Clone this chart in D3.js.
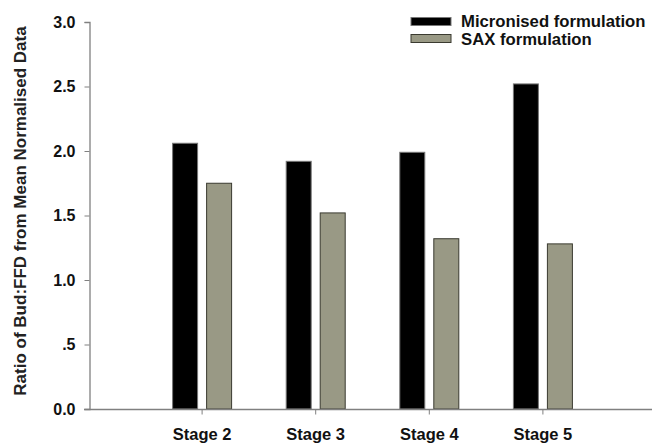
<!DOCTYPE html>
<html><head><meta charset="utf-8">
<script src="https://cdn.jsdelivr.net/npm/d3@7"></script>
<style>body{margin:0;background:#fff;} svg{display:block;font-family:"Liberation Sans",Arial,sans-serif;}</style>
</head><body>
<svg id="c" width="652" height="443"></svg>
<script>
const categories = ["Stage 2", "Stage 3", "Stage 4", "Stage 5"];
const seriesNames = ["Micronised formulation", "SAX formulation"];
const micronised = [2.06, 1.92, 1.99, 2.52];
const sax = [1.75, 1.52, 1.32, 1.28];
const yTicks = [0, 0.5, 1.0, 1.5, 2.0, 2.5, 3.0];
const yTickLabels = ["0.0", ".5", "1.0", "1.5", "2.0", "2.5", "3.0"];
const yLabel = "Ratio of Bud:FFD from Mean Normalised Data";
const colors = ["#000000", "#999985"];
const strokes = ["#777777", "#3a3a30"];

const svg = d3.select("#c");
const y = d3.scaleLinear().domain([0, 3]).range([409, 22]);
const x = d3.scaleBand().domain(categories).range([145.3, 599.7]).padding(0);
const x1 = d3.scaleBand().domain(seriesNames).range([-29.5, 29.5]).paddingInner(0.265);
const xc = c => x(c) + x.bandwidth() / 2;

const data = [micronised, sax];

// bars
seriesNames.forEach((s, si) => {
  svg.append("g").selectAll("rect").data(categories).join("rect")
    .attr("x", c => xc(c) + x1(s))
    .attr("width", x1.bandwidth())
    .attr("y", (c, i) => y(data[si][i]))
    .attr("height", (c, i) => y(0) - y(data[si][i]))
    .attr("fill", colors[si])
    .attr("stroke", strokes[si])
    .attr("stroke-width", 1);
});

// y axis
const yAxis = d3.axisLeft(y).tickValues(yTicks).tickSize(5).tickPadding(9)
  .tickFormat((d, i) => yTickLabels[i]);
const gy = svg.append("g").attr("transform", "translate(89.5,0)").call(yAxis);
gy.select(".domain").attr("stroke", "#808080").attr("stroke-width", 1.3);
gy.selectAll(".tick line").attr("stroke", "#808080");
gy.selectAll(".tick text").attr("font-size", 16).attr("font-weight", "bold").attr("fill", "#111")
  .attr("font-family", "'Liberation Sans', Arial, sans-serif");

// x axis
svg.append("line").attr("x1", 84).attr("x2", 652).attr("y1", 409.5).attr("y2", 409.5)
  .attr("stroke", "#808080").attr("stroke-width", 1.3);
const xAxis = d3.axisBottom(x).tickSize(5).tickPadding(14);
const gx = svg.append("g").attr("transform", "translate(0,409.5)").call(xAxis);
gx.select(".domain").remove();
gx.selectAll(".tick line").attr("stroke", "#808080");
gx.selectAll(".tick text").attr("font-size", 16.5).attr("font-weight", "bold").attr("fill", "#111")
  .attr("font-family", "'Liberation Sans', Arial, sans-serif");

// y label
svg.append("text")
  .attr("transform", "translate(26,211) rotate(-90)")
  .attr("text-anchor", "middle")
  .attr("font-size", 17).attr("font-weight", "bold").attr("fill", "#222")
  .text(yLabel);

// legend
const lg = svg.append("g");
seriesNames.forEach((s, i) => {
  lg.append("rect").attr("x", 411).attr("y", 17.5 + i * 17).attr("width", 40).attr("height", 8)
    .attr("fill", colors[i]).attr("stroke", strokes[i]).attr("stroke-width", 1);
  lg.append("text").attr("x", 461).attr("y", 27 + i * 17.5)
    .attr("font-size", 16.7).attr("font-weight", "bold").attr("fill", "#111").text(s);
});
</script>
</body></html>
